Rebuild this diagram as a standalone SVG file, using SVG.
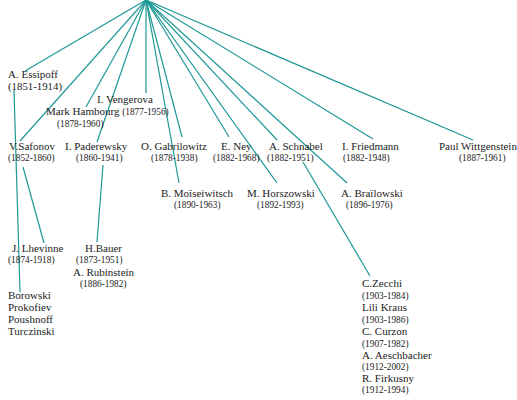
<svg xmlns="http://www.w3.org/2000/svg" width="517" height="400" viewBox="0 0 517 400">
<style>
text{font-family:'Liberation Serif','Times New Roman','DejaVu Serif',serif;fill:#222}
.n{font-size:11px}
.d{font-size:9.3px}
.e{font-size:10.8px}
#connectors line{stroke:#1e9896;stroke-width:1.2;fill:none}
</style>
<rect width="517" height="400" fill="#fff"/>
<g id="connectors">
<line x1="146" y1="0" x2="25" y2="71"/>
<line x1="146" y1="0" x2="20" y2="141"/>
<line x1="146" y1="0" x2="86" y2="107"/>
<line x1="146" y1="0" x2="97" y2="142"/>
<line x1="146" y1="0" x2="146" y2="93"/>
<line x1="146" y1="0" x2="182" y2="137"/>
<line x1="146" y1="0" x2="179" y2="183"/>
<line x1="146" y1="0" x2="229" y2="137"/>
<line x1="146" y1="0" x2="277" y2="183"/>
<line x1="146" y1="0" x2="277" y2="140"/>
<line x1="146" y1="0" x2="347" y2="183"/>
<line x1="146" y1="0" x2="373" y2="139"/>
<line x1="146" y1="0" x2="473" y2="140"/>
<line x1="14" y1="90" x2="20" y2="292"/>
<line x1="23" y1="167" x2="44" y2="243"/>
<line x1="103" y1="165" x2="97" y2="242"/>
<line x1="303" y1="162" x2="370" y2="276"/>
</g>
<g id="essipoff"><text class="n" x="8" y="78">A. Essipoff</text><text class="e" x="8" y="90">(1851-1914)</text></g>
<g id="vengerova"><text class="n" x="97" y="103">I. Vengerova</text></g>
<g id="hambourg"><text class="n" x="46" y="115">Mark Hambourg <tspan class="d">(1877-1956)</tspan></text><text class="d" x="57" y="127">(1878-1960)</text></g>
<g id="safonov"><text class="n" x="9" y="150">V.Safonov</text><text class="d" x="8" y="161">(1852-1860)</text></g>
<g id="paderewsky"><text class="n" x="65" y="150">I. Paderewsky</text><text class="d" x="76" y="161">(1860-1941)</text></g>
<g id="gabrilowitz"><text class="n" x="141" y="150">O. Gabrilowitz</text><text class="d" x="151" y="161">(1878-1938)</text></g>
<g id="ney"><text class="n" x="221" y="150">E. Ney</text><text class="d" x="213" y="161">(1882-1968)</text></g>
<g id="schnabel"><text class="n" x="269" y="150">A. Schnabel</text><text class="d" x="267" y="161">(1882-1951)</text></g>
<g id="friedmann"><text class="n" x="342" y="150">I. Friedmann</text><text class="d" x="343" y="161">(1882-1948)</text></g>
<g id="wittgenstein"><text class="n" x="439" y="150">Paul Wittgenstein</text><text class="d" x="459" y="161">(1887-1961)</text></g>
<g id="moiseiwitsch"><text class="n" x="161" y="197">B. Moïseiwitsch</text><text class="d" x="174" y="208">(1890-1963)</text></g>
<g id="horszowski"><text class="n" x="247" y="197">M. Horszowski</text><text class="d" x="257" y="208">(1892-1993)</text></g>
<g id="brailowski"><text class="n" x="341" y="197">A. Braïlowski</text><text class="d" x="346" y="208">(1896-1976)</text></g>
<g id="lhevinne"><text class="n" x="12" y="252">J. Lhevinne</text><text class="d" x="8" y="263">(1874-1918)</text></g>
<g id="bauer"><text class="n" x="85" y="252">H.Bauer</text><text class="d" x="76" y="263">(1873-1951)</text></g>
<g id="rubinstein"><text class="n" x="73" y="276">A. Rubinstein</text><text class="d" x="80" y="287">(1886-1982)</text></g>
<g id="essipoff-students"><text class="n" x="8" y="299">Borowski</text><text class="n" x="8" y="311">Prokofiev</text><text class="n" x="8" y="323">Poushnoff</text><text class="n" x="8" y="335">Turczinski</text></g>
<g id="schnabel-students">
<text class="n" x="362" y="287">C.Zecchi</text><text class="d" x="362" y="299">(1903-1984)</text>
<text class="n" x="362" y="311">Lili Kraus</text><text class="d" x="362" y="323">(1903-1986)</text>
<text class="n" x="362" y="335">C. Curzon</text><text class="d" x="362" y="347">(1907-1982)</text>
<text class="n" x="362" y="359">A. Aeschbacher</text><text class="d" x="362" y="370">(1912-2002)</text>
<text class="n" x="362" y="382">R. Firkusny</text><text class="d" x="362" y="393">(1912-1994)</text>
</g>
</svg>
